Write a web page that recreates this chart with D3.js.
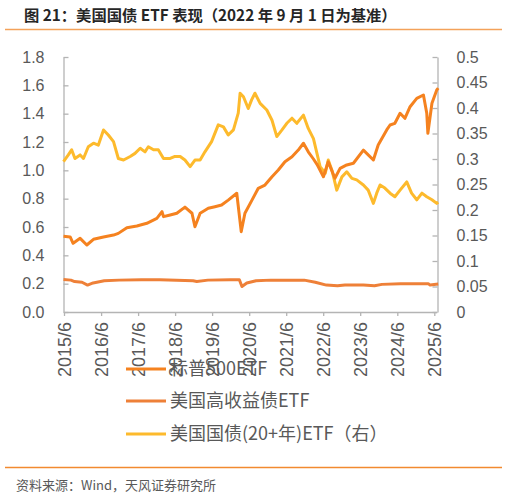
<!DOCTYPE html>
<html>
<head>
<meta charset="utf-8">
<script src="https://cdn.jsdelivr.net/npm/d3@7"></script>
<style>
  body { margin: 0; background: #fff; }
  text { font-family: "Liberation Sans", Arial, "Noto Sans CJK SC", sans-serif; }
  .cjk { font-family: "Noto Sans CJK SC", "Liberation Sans", sans-serif; }
</style>
</head>
<body>
<div id="chart"></div>
<script>
// series, time in decimal years
var spxYears = [2015.40, 2015.58, 2015.66, 2015.85, 2016.03, 2016.21, 2016.48, 2016.75, 2016.88, 2017.11,
  2017.38, 2017.65, 2017.92, 2018.06, 2018.10, 2018.28, 2018.46, 2018.68, 2018.87, 2018.95,
  2019.09, 2019.31, 2019.49, 2019.67, 2019.85, 2020.08, 2020.20, 2020.30, 2020.49, 2020.66,
  2020.84, 2021.03, 2021.20, 2021.38, 2021.57, 2021.74, 2021.88, 2022.01, 2022.15, 2022.25,
  2022.42, 2022.55, 2022.73, 2022.87, 2023.05, 2023.23, 2023.50, 2023.77, 2023.90, 2024.13,
  2024.22, 2024.35, 2024.49, 2024.62, 2024.76, 2024.94, 2025.12, 2025.21, 2025.24, 2025.35,
  2025.48, 2025.52]
var spxValues = [0.535, 0.53, 0.485, 0.52, 0.473, 0.513, 0.53, 0.543, 0.555, 0.595,
  0.607, 0.626, 0.661, 0.708, 0.673, 0.685, 0.697, 0.74, 0.697, 0.602,
  0.697, 0.732, 0.743, 0.755, 0.79, 0.838, 0.567, 0.697, 0.79, 0.873,
  0.896, 0.955, 1.002, 1.061, 1.096, 1.143, 1.191, 1.131, 1.08, 1.04,
  0.955, 1.06, 0.944, 1.014, 1.038, 1.05, 1.143, 1.073, 1.179, 1.285,
  1.32, 1.332, 1.403, 1.367, 1.449, 1.508, 1.532, 1.403, 1.261, 1.473,
  1.567, 1.58]

var hyYears = [2015.40, 2015.6, 2015.7, 2015.9, 2016.05, 2016.2, 2016.5, 2016.9, 2017.5, 2018.0,
  2018.9, 2019.0, 2019.3, 2019.9, 2020.15, 2020.22, 2020.35, 2020.6, 2021.0, 2021.9,
  2022.2, 2022.5, 2022.8, 2023.0, 2023.5, 2023.8, 2024.0, 2024.5, 2025.0, 2025.25,
  2025.3, 2025.52]
var hyValues = [0.23, 0.225, 0.215, 0.21, 0.19, 0.205, 0.22, 0.225, 0.227, 0.228,
  0.22, 0.215, 0.225, 0.228, 0.228, 0.18, 0.205, 0.22, 0.225, 0.225,
  0.21, 0.19, 0.185, 0.19, 0.19, 0.185, 0.195, 0.2, 0.2, 0.2,
  0.19, 0.197]

var tltYears = [2015.40, 2015.53, 2015.62, 2015.71, 2015.85, 2015.94, 2016.07, 2016.21, 2016.34, 2016.48,
  2016.61, 2016.75, 2016.88, 2017.02, 2017.20, 2017.33, 2017.47, 2017.60, 2017.69, 2017.83,
  2017.96, 2018.10, 2018.28, 2018.41, 2018.55, 2018.68, 2018.82, 2018.95, 2019.09, 2019.22,
  2019.40, 2019.58, 2019.72, 2019.85, 2019.99, 2020.12, 2020.17, 2020.26, 2020.39, 2020.48,
  2020.57, 2020.71, 2020.89, 2021.03, 2021.16, 2021.30, 2021.43, 2021.57, 2021.70, 2021.88,
  2022.01, 2022.15, 2022.33, 2022.47, 2022.55, 2022.65, 2022.78, 2022.92, 2023.05, 2023.19,
  2023.32, 2023.50, 2023.63, 2023.77, 2023.86, 2023.95, 2024.08, 2024.22, 2024.35, 2024.49,
  2024.67, 2024.80, 2024.94, 2025.08, 2025.21, 2025.35, 2025.48, 2025.52]
var tltValues = [0.295, 0.308, 0.318, 0.301, 0.308, 0.301, 0.324, 0.331, 0.327, 0.357,
  0.347, 0.334, 0.301, 0.298, 0.305, 0.311, 0.321, 0.314, 0.324, 0.318,
  0.318, 0.301, 0.301, 0.305, 0.305, 0.298, 0.285, 0.298, 0.298, 0.314,
  0.334, 0.367, 0.363, 0.347, 0.357, 0.39, 0.429, 0.422, 0.399, 0.416,
  0.429, 0.409, 0.396, 0.376, 0.344, 0.357, 0.37, 0.38, 0.37, 0.386,
  0.36, 0.34, 0.285, 0.272, 0.298, 0.278, 0.239, 0.265, 0.275, 0.262,
  0.259, 0.249, 0.239, 0.213, 0.233, 0.249, 0.243, 0.233, 0.226, 0.239,
  0.255, 0.233, 0.22, 0.233, 0.226, 0.22, 0.213, 0.215]

var seriesNames = ["标普500ETF", "美国高收益债ETF", "美国国债(20+年)ETF（右）"]
var seriesColors = ["#F5821F", "#EE8038", "#FDBA2C"]

var xTickLabels = ["2015/6", "2016/6", "2017/6", "2018/6", "2019/6", "2020/6", "2021/6", "2022/6", "2023/6", "2024/6", "2025/6"]
var leftTicks = [0, 0.2, 0.4, 0.6, 0.8, 1.0, 1.2, 1.4, 1.6, 1.8]
var rightTicks = [0, 0.05, 0.1, 0.15, 0.2, 0.25, 0.3, 0.35, 0.4, 0.45, 0.5]

var titleText = "图 21：美国国债 ETF 表现（2022 年 9 月 1 日为基准）"
var sourceText = "资料来源：Wind，天风证券研究所"

function toDate(y) {
    var yr = Math.floor(y)
    var start = new Date(yr, 0, 1), end = new Date(yr + 1, 0, 1)
    return new Date(+start + (y - yr) * (end - start))
}

function zip(ts, vs) {
    return ts.map(function(t, i){ return {date: toDate(t), value: vs[i]} })
}

var width = 508, height = 497
var plotBox = {left: 64, right: 437, top: 57, bottom: 312}

var svg = d3.select("#chart").append("svg")
    .attr("width", width)
    .attr("height", height)

// title + rules
svg.append("text")
    .attr("class", "cjk")
    .attr("x", 24).attr("y", 21)
    .attr("font-size", 15.3)
    .attr("font-weight", "bold")
    .attr("fill", "#262626")
    .text(titleText)

svg.append("line")
    .attr("x1", 5).attr("x2", 502).attr("y1", 29.5).attr("y2", 29.5)
    .attr("stroke", "#F4A25A").attr("stroke-width", 1.5)

svg.append("line")
    .attr("x1", 5).attr("x2", 502).attr("y1", 467.5).attr("y2", 467.5)
    .attr("stroke", "#F28A30").attr("stroke-width", 1.5)

svg.append("text")
    .attr("class", "cjk")
    .attr("x", 16).attr("y", 490)
    .attr("font-size", 13)
    .attr("fill", "#595959")
    .text(sourceText)

var parseTick = d3.timeParse("%Y/%m")

var xScale = d3.scaleTime()
    .domain([parseTick("2015/6"), parseTick("2025/6")])
    .range([plotBox.left, 434.3])

var yLeft = d3.scaleLinear().domain([0, 1.8]).range([plotBox.bottom, plotBox.top])
var yRight = d3.scaleLinear().domain([0, 0.5]).range([plotBox.bottom, plotBox.top])

// axes
var xAxis = d3.axisBottom(xScale)
    .tickValues(xTickLabels.map(parseTick))
    .tickFormat(d3.timeFormat("%Y/%-m"))
    .tickSizeInner(4).tickSizeOuter(0)

var gx = svg.append("g")
    .attr("transform", "translate(0," + plotBox.bottom + ")")
    .call(xAxis)
gx.select(".domain").attr("d", "M" + plotBox.left + ",0.5H" + plotBox.right)
gx.selectAll(".tick text")
    .attr("font-size", 18)
    .attr("fill", "#595959")
    .attr("text-anchor", "end")
    .attr("transform", "rotate(-90)")
    .attr("x", -10).attr("y", 0).attr("dy", "0.35em")

var gl = svg.append("g")
    .attr("transform", "translate(" + (plotBox.left - 0.5) + ",0)")
    .call(d3.axisRight(yLeft).tickValues(leftTicks).tickFormat(d3.format(".1f")).tickSizeInner(5).tickSizeOuter(0))
gl.selectAll(".tick text")
    .attr("font-size", 16)
    .attr("fill", "#595959")
    .attr("text-anchor", "end")
    .attr("x", -19)

var gr = svg.append("g")
    .attr("transform", "translate(" + (plotBox.right + 0.5) + ",0)")
    .call(d3.axisLeft(yRight).tickValues(rightTicks).tickFormat(d3.format("~g")).tickSizeInner(5).tickSizeOuter(0))
gr.selectAll(".tick text")
    .attr("font-size", 16)
    .attr("fill", "#595959")
    .attr("text-anchor", "start")
    .attr("x", 19)

svg.selectAll(".domain, .tick line")
    .attr("stroke", "#B4B4B4")
    .attr("stroke-width", 1.3)

// lines
var lineL = d3.line()
    .x(function(d){ return xScale(d.date) })
    .y(function(d){ return yLeft(d.value) })
var lineR = d3.line()
    .x(function(d){ return xScale(d.date) })
    .y(function(d){ return yRight(d.value) })

var plot = svg.append("g")

plot.append("path")
    .datum(zip(tltYears, tltValues))
    .attr("d", lineR)
    .attr("fill", "none")
    .attr("stroke", seriesColors[2])
    .attr("stroke-width", 3)
    .attr("stroke-linejoin", "round")

plot.append("path")
    .datum(zip(hyYears, hyValues))
    .attr("d", lineL)
    .attr("fill", "none")
    .attr("stroke", seriesColors[1])
    .attr("stroke-width", 3)
    .attr("stroke-linejoin", "round")

plot.append("path")
    .datum(zip(spxYears, spxValues))
    .attr("d", lineL)
    .attr("fill", "none")
    .attr("stroke", seriesColors[0])
    .attr("stroke-width", 3)
    .attr("stroke-linejoin", "round")

// legend
var legendY = [369, 401, 434]
var legend = svg.append("g")
    .selectAll("g")
    .data(seriesNames).enter()
    .append("g")
    .attr("transform", function(d, i){ return "translate(126," + legendY[i] + ")" })

legend.append("line")
    .attr("x1", 0).attr("x2", 40)
    .attr("stroke", function(d, i){ return seriesColors[i] })
    .attr("stroke-width", 3)

legend.append("text")
    .attr("class", "cjk")
    .attr("x", 44).attr("dy", "0.35em")
    .attr("font-size", 18)
    .attr("fill", "#595959")
    .text(function(d){ return d })
</script>
</body>
</html>
